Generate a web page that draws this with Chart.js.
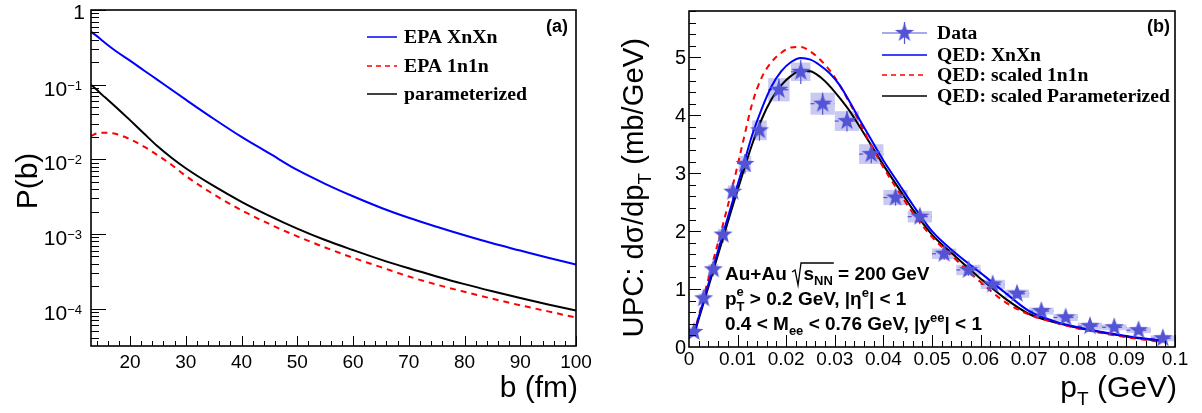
<!DOCTYPE html>
<html>
<head>
<meta charset="utf-8">
<script src="https://cdn.jsdelivr.net/npm/chart.js@4.4.1/dist/chart.umd.min.js"></script>
<style>
  body { margin: 0; background: #fff; }
  #wrap { position: relative; width: 1202px; height: 413px; }
  #probChart { position: absolute; left: 0; top: 0; }
  #ptChart { position: absolute; left: 600px; top: 0; }
</style>
</head>
<body>
<div id="wrap">
  <canvas id="probChart" width="600" height="413"></canvas>
  <canvas id="ptChart" width="602" height="413"></canvas>
</div>
<script>
// (a) probability vs impact parameter b (fm)
let bValues = [13, 14, 15, 16, 17.5, 20, 22.5, 25, 27.5, 30, 35, 40, 45, 50, 55, 60, 65, 70, 75, 80, 85, 90, 95, 100];
let pXnXn = [0.51, 0.45, 0.39, 0.34, 0.28, 0.21, 0.155, 0.115, 0.085, 0.063, 0.035, 0.020, 0.0120, 0.0072, 0.0047, 0.0032,
  0.00225, 0.00165, 0.00125, 0.00096, 0.00075, 0.0006, 0.00048, 0.00039];
let p1n1n = [0.0205, 0.0222, 0.0227, 0.0226, 0.0218, 0.0186, 0.0148, 0.0113, 0.0084, 0.0060, 0.0034, 0.00208, 0.00136, 0.00093,
  0.00066, 0.00048, 0.00036, 0.00027, 0.00021, 0.000168, 0.000136, 0.000111, 0.000092, 0.000076];
let pParam = [0.100, 0.086, 0.073, 0.063, 0.050, 0.0335, 0.0222, 0.0148, 0.0104, 0.0076, 0.0044, 0.0027, 0.00175, 0.00118,
  0.00083, 0.00061, 0.000454, 0.000347, 0.00027, 0.000213, 0.000171, 0.000139, 0.000114, 0.0000947];

// (b) UPC dsigma/dpT, measured points
let ptData = [0.001, 0.003, 0.005, 0.007, 0.009, 0.0115, 0.0145, 0.0185, 0.023, 0.0275, 0.0325, 0.0375, 0.0425, 0.0475,
  0.0525, 0.0575, 0.0625, 0.0675, 0.0725, 0.0775, 0.0825, 0.0875, 0.0925, 0.0975];
let dataYield = [0.26, 0.84, 1.34, 1.94, 2.68, 3.16, 3.74, 4.44, 4.75, 4.2, 3.9, 3.33, 2.58, 2.25, 1.61, 1.33, 1.08, 0.92,
  0.62, 0.51, 0.36, 0.34, 0.29, 0.15];
let statErr = [0.08, 0.1, 0.12, 0.14, 0.16, 0.17, 0.18, 0.19, 0.21, 0.19, 0.18, 0.16, 0.14, 0.13, 0.11, 0.1, 0.09, 0.08,
  0.07, 0.06, 0.06, 0.05, 0.05, 0.05];
let sysErr = [0.08, 0.08, 0.09, 0.1, 0.11, 0.14, 0.17, 0.2, 0.16, 0.19, 0.17, 0.17, 0.13, 0.1, 0.09, 0.09, 0.08, 0.07,
  0.06, 0.06, 0.06, 0.05, 0.05, 0.05];
let binHalf = [0.001, 0.001, 0.001, 0.001, 0.001, 0.0013, 0.0015, 0.0022, 0.002, 0.0025, 0.0025, 0.0025, 0.0025, 0.0025,
  0.0025, 0.0025, 0.0025, 0.0025, 0.0025, 0.0025, 0.0025, 0.0025, 0.0025, 0.0025];

// (b) QED curves
let ptModel = [0.001, 0.003, 0.005, 0.007, 0.009, 0.011, 0.013, 0.015, 0.017, 0.019, 0.021, 0.023, 0.025, 0.027, 0.029,
  0.031, 0.033, 0.035, 0.037, 0.040, 0.043, 0.046, 0.050, 0.055, 0.060, 0.065, 0.070, 0.075, 0.080, 0.085, 0.090, 0.0975];
let qedXnXn = [0.22, 0.80, 1.38, 1.96, 2.52, 3.08, 3.66, 4.12, 4.50, 4.76, 4.92, 4.99, 4.96, 4.86, 4.72, 4.52, 4.24, 3.94,
  3.65, 3.22, 2.84, 2.46, 2.00, 1.61, 1.28, 0.94, 0.62, 0.45, 0.34, 0.26, 0.19, 0.11];
let qed1n1n = [0.22, 0.86, 1.50, 2.12, 2.78, 3.50, 4.20, 4.66, 4.92, 5.08, 5.17, 5.18, 5.10, 4.96, 4.77, 4.52, 4.22, 3.90,
  3.56, 3.10, 2.70, 2.32, 1.90, 1.50, 1.12, 0.78, 0.56, 0.43, 0.32, 0.24, 0.17, 0.08];
let qedParam = [0.20, 0.76, 1.32, 1.88, 2.44, 2.98, 3.50, 3.94, 4.28, 4.52, 4.68, 4.77, 4.76, 4.66, 4.50, 4.30, 4.08, 3.82,
  3.55, 3.14, 2.76, 2.38, 1.94, 1.55, 1.18, 0.84, 0.57, 0.43, 0.33, 0.25, 0.18, 0.10];

let labelsA = ['EPA XnXn', 'EPA 1n1n', 'parameterized'];
let labelsB = ['Data', 'QED: XnXn', 'QED: scaled 1n1n', 'QED: scaled Parameterized'];
let bTicks = [20, 30, 40, 50, 60, 70, 80, 90, 100];
let pDecades = [-4, -3, -2, -1, 0];
let ptTicks = ['0', '0.01', '0.02', '0.03', '0.04', '0.05', '0.06', '0.07', '0.08', '0.09', '0.1'];
let yieldTicks = [0, 1, 2, 3, 4, 5];

const SANS = '"Liberation Sans", Arial, sans-serif';
const SERIF = '"Liberation Serif", "Times New Roman", serif';
const BLUE = '#0000ff';
const RED = '#ff0000';
const STAR = '#5353d6';
const BOX = '#c9c9f1';

let toPoints = (xs, ys) => xs.map((x, i) => ({ x: x, y: ys[i] }));

// text made of pieces with their own font and vertical shift;
// a piece with stack: true sits over the previous one (sub + superscript)
let drawRich = (ctx, parts, x, y, align) => {
  let widths = parts.map((p) => {
    ctx.font = p.font;
    return ctx.measureText(p.text).width;
  });
  let adv = widths.map((w, i) => (parts[i].stack ? Math.max(0, w - widths[i - 1]) : w));
  let total = adv.reduce((s, w) => s + w, 0);
  let cx = align === 'right' ? x - total : align === 'center' ? x - total / 2 : x;
  let starts = [];
  ctx.textAlign = 'left';
  ctx.textBaseline = 'alphabetic';
  parts.forEach((p, i) => {
    ctx.font = p.font;
    let px = p.stack ? starts[i - 1] : cx;
    starts.push(px);
    ctx.fillText(p.text, px, y + (p.dy || 0));
    cx += adv[i];
  });
  return { starts: starts, widths: widths };
};

// font size so that the text spans the given width
let fitSize = (ctx, text, weight, family, width) => {
  ctx.font = weight + ' 100px ' + family;
  return (100 * width) / ctx.measureText(text).width;
};

let line = (ctx, x1, y1, x2, y2) => {
  ctx.beginPath();
  ctx.moveTo(x1, y1);
  ctx.lineTo(x2, y2);
  ctx.stroke();
};

let makeStar = (r, color) => {
  let c = document.createElement('canvas');
  c.width = c.height = 2 * r + 2;
  let g = c.getContext('2d');
  g.fillStyle = color;
  g.beginPath();
  for (let k = 0; k < 10; k++) {
    let a = -Math.PI / 2 + (k * Math.PI) / 5;
    let rr = k % 2 ? r * 0.4 : r;
    g.lineTo(r + 1 + rr * Math.cos(a), r + 1 + rr * Math.sin(a));
  }
  g.closePath();
  g.fill();
  return c;
};
let starImg = makeStar(10, STAR);

// axes, ticks, labels and legend of panel (a)
let frameA = {
  id: 'frameA',
  afterDraw(chart) {
    let { ctx, chartArea: a, scales } = chart;
    let x = scales.x;
    let y = scales.y;
    ctx.save();
    ctx.fillStyle = '#000';
    ctx.strokeStyle = '#000';
    ctx.lineWidth = 1;
    for (let v = 14; v <= 100; v += 2) {
      let px = Math.round(x.getPixelForValue(v)) + 0.5;
      line(ctx, px, a.bottom, px, a.bottom - (v % 10 === 0 ? 10 : 5));
    }
    for (let e = -5; e <= 0; e++) {
      for (let k = 1; k <= 9; k++) {
        let v = k * Math.pow(10, e);
        if (v < y.min * 0.999 || v > y.max * 1.001) continue;
        let py = Math.round(y.getPixelForValue(v)) + 0.5;
        line(ctx, a.left, py, a.left + (k === 1 ? 15 : 8), py);
      }
    }
    ctx.lineWidth = 1.6;
    ctx.strokeRect(a.left, a.top, a.right - a.left, a.bottom - a.top);

    ctx.textAlign = 'center';
    ctx.font = '19px ' + SANS;
    bTicks.forEach((v) => ctx.fillText(String(v), x.getPixelForValue(v), a.bottom + 22));
    pDecades.forEach((e) => {
      let py = y.getPixelForValue(Math.pow(10, e));
      if (e === 0) {
        drawRich(ctx, [{ text: '1', font: '21px ' + SANS }], 85, py + 9, 'right');
      } else {
        drawRich(ctx, [
          { text: '10', font: '21px ' + SANS },
          { text: '\u2212' + -e, font: '13px ' + SANS, dy: -6 },
        ], 82, py + 11, 'right');
      }
    });

    // axis titles
    drawRich(ctx, [{ text: 'b (fm)', font: '30px ' + SANS }], a.right + 2, 397, 'right');
    ctx.save();
    ctx.translate(37, 181);
    ctx.rotate(-Math.PI / 2);
    drawRich(ctx, [{ text: 'P(b)', font: '30px ' + SANS }], 0, 0, 'center');
    ctx.restore();

    drawRich(ctx, [{ text: '(a)', font: 'bold 18px ' + SANS }], 568, 32, 'right');

    // legend
    let size = fitSize(ctx, labelsA[2], 'bold', SERIF, 123);
    let rows = [37, 66, 94];
    let styles = [[BLUE, []], [RED, [5, 4]], ['#000', []]];
    rows.forEach((ry, i) => {
      ctx.strokeStyle = styles[i][0];
      ctx.lineWidth = 1.5;
      ctx.setLineDash(styles[i][1]);
      line(ctx, 367, ry, 397, ry);
      ctx.setLineDash([]);
      drawRich(ctx, [{ text: labelsA[i], font: 'bold ' + size + 'px ' + SERIF }], 404, ry + 6, 'left');
    });
    ctx.restore();
  },
};

new Chart(document.getElementById('probChart'), {
  type: 'line',
  data: {
    datasets: [
      {
        label: labelsA[0],
        data: toPoints(bValues, pXnXn),
        borderColor: BLUE,
        borderWidth: 2,
        pointRadius: 0,
        cubicInterpolationMode: 'monotone',
      },
      {
        label: labelsA[1],
        data: toPoints(bValues, p1n1n),
        borderColor: RED,
        borderWidth: 2,
        borderDash: [6, 5],
        pointRadius: 0,
        cubicInterpolationMode: 'monotone',
      },
      {
        label: labelsA[2],
        data: toPoints(bValues, pParam),
        borderColor: '#000',
        borderWidth: 2,
        pointRadius: 0,
        cubicInterpolationMode: 'monotone',
      },
    ],
  },
  options: {
    responsive: false,
    animation: false,
    layout: { padding: { left: 91, right: 24, top: 10, bottom: 67 } },
    plugins: { legend: { display: false }, tooltip: { enabled: false } },
    scales: {
      x: { type: 'linear', min: 13, max: 100, display: false },
      y: { type: 'logarithmic', min: Math.pow(10, -4.5), max: 1, display: false },
    },
  },
  plugins: [frameA],
});

// systematic boxes and error bars under the data stars
let dataBars = {
  id: 'dataBars',
  beforeDatasetsDraw(chart) {
    let { ctx, scales } = chart;
    let x = scales.x;
    let y = scales.y;
    ctx.save();
    ptData.forEach((pt, i) => {
      let x1 = x.getPixelForValue(pt - binHalf[i]);
      let x2 = x.getPixelForValue(pt + binHalf[i]);
      let y1 = y.getPixelForValue(dataYield[i] + sysErr[i]);
      let y2 = y.getPixelForValue(dataYield[i] - sysErr[i]);
      ctx.fillStyle = BOX;
      ctx.fillRect(x1, y1, x2 - x1, y2 - y1);
    });
    ctx.strokeStyle = STAR;
    ctx.lineWidth = 1.2;
    ptData.forEach((pt, i) => {
      let px = x.getPixelForValue(pt);
      let py = y.getPixelForValue(dataYield[i]);
      line(ctx, px, y.getPixelForValue(dataYield[i] + statErr[i]), px, y.getPixelForValue(dataYield[i] - statErr[i]));
      ctx.setLineDash([4, 4]);
      line(ctx, x.getPixelForValue(pt - binHalf[i]), py, x.getPixelForValue(pt + binHalf[i]), py);
      ctx.setLineDash([]);
    });
    ctx.restore();
  },
};

// axes, ticks, labels, text and legend of panel (b)
let frameB = {
  id: 'frameB',
  afterDraw(chart) {
    let { ctx, chartArea: a, scales } = chart;
    let x = scales.x;
    let y = scales.y;
    ctx.save();
    ctx.fillStyle = '#000';
    ctx.strokeStyle = '#000';
    ctx.lineWidth = 1;
    for (let k = 1; k <= 50; k++) {
      let px = Math.round(x.getPixelForValue(k * 0.002)) + 0.5;
      line(ctx, px, a.bottom, px, a.bottom - (k % 5 === 0 ? 12 : 6));
    }
    for (let k = 1; k <= 29; k++) {
      let py = Math.round(y.getPixelForValue(k * 0.2)) + 0.5;
      line(ctx, a.left, py, a.left + (k % 5 === 0 ? 12 : 7), py);
    }
    ctx.lineWidth = 1.6;
    ctx.strokeRect(a.left, a.top, a.right - a.left, a.bottom - a.top);

    ptTicks.forEach((t) => {
      drawRich(ctx, [{ text: t, font: '19px ' + SANS }], x.getPixelForValue(Number(t)), a.bottom + 18, 'center');
    });
    yieldTicks.forEach((v) => {
      drawRich(ctx, [{ text: String(v), font: '20px ' + SANS }], a.left - 3, y.getPixelForValue(v) + 7, 'right');
    });

    // axis titles
    let big = '30px ' + SANS;
    let sub = '19px ' + SANS;
    drawRich(ctx, [
      { text: 'p', font: big },
      { text: 'T', font: sub, dy: 8 },
      { text: ' (GeV)', font: big },
    ], a.right + 2, 397, 'right');
    let ty = fitSize(ctx, 'UPC: d\u03c3/dpT (mb/GeV)', '', SANS, 306);
    ctx.save();
    ctx.translate(43, 38);
    ctx.rotate(-Math.PI / 2);
    drawRich(ctx, [
      { text: 'UPC: d\u03c3/dp', font: ty + 'px ' + SANS },
      { text: 'T', font: ty * 0.64 + 'px ' + SANS, dy: 8 },
      { text: ' (mb/GeV)', font: ty + 'px ' + SANS },
    ], 0, 0, 'right');
    ctx.restore();

    drawRich(ctx, [{ text: '(b)', font: 'bold 18px ' + SANS }], 570, 32, 'right');

    // collision system text
    let tb = 'bold 19px ' + SANS;
    let ts = 'bold 13px ' + SANS;
    let r1 = drawRich(ctx, [
      { text: 'Au+Au ', font: tb },
      { text: '\u2009\u2009\u2009', font: tb },
      { text: 's', font: tb },
      { text: 'NN', font: ts, dy: 5 },
      { text: ' = 200 GeV', font: tb },
    ], 125, 280, 'left');
    let sx = r1.starts[1];
    let ex = r1.starts[3] + r1.widths[3] + 1;
    ctx.lineWidth = 1.3;
    ctx.beginPath();
    ctx.moveTo(sx, 272);
    ctx.lineTo(sx + 3, 270);
    ctx.lineTo(sx + 6, 285);
    ctx.lineTo(sx + 9, 263);
    ctx.lineTo(ex, 263);
    ctx.stroke();
    drawRich(ctx, [
      { text: 'p', font: tb },
      { text: 'T', font: ts, dy: 6 },
      { text: 'e', font: ts, dy: -9, stack: true },
      { text: ' > 0.2 GeV, |\u03b7', font: tb },
      { text: 'e', font: ts, dy: -8 },
      { text: '| < 1', font: tb },
    ], 125, 305, 'left');
    drawRich(ctx, [
      { text: '0.4 < M', font: tb },
      { text: 'ee', font: ts, dy: 5 },
      { text: ' < 0.76 GeV, |y', font: tb },
      { text: 'ee', font: ts, dy: -8 },
      { text: '| < 1', font: tb },
    ], 125, 330, 'left');

    // legend
    let size = fitSize(ctx, labelsB[3], 'bold', SERIF, 233);
    let rows = [33, 55, 75, 96];
    let lx1 = 282;
    let lx2 = 327;
    ctx.strokeStyle = STAR;
    ctx.lineWidth = 1.2;
    line(ctx, lx1, rows[0], lx2, rows[0]);
    line(ctx, (lx1 + lx2) / 2, rows[0] - 11, (lx1 + lx2) / 2, rows[0] + 11);
    ctx.drawImage(starImg, (lx1 + lx2) / 2 - 11, rows[0] - 11);
    let styles = [[BLUE, []], [RED, [5, 4]], ['#000', []]];
    styles.forEach((s, i) => {
      ctx.strokeStyle = s[0];
      ctx.lineWidth = 1.5;
      ctx.setLineDash(s[1]);
      line(ctx, lx1, rows[i + 1], lx2, rows[i + 1]);
      ctx.setLineDash([]);
    });
    rows.forEach((ry, i) => {
      drawRich(ctx, [{ text: labelsB[i], font: 'bold ' + size + 'px ' + SERIF }], 337, ry + 6, 'left');
    });
    ctx.restore();
  },
};

new Chart(document.getElementById('ptChart'), {
  type: 'line',
  data: {
    datasets: [
      {
        label: labelsB[0],
        data: toPoints(ptData, dataYield),
        showLine: false,
        pointStyle: starImg,
        pointRadius: 10,
      },
      {
        label: labelsB[1],
        data: toPoints(ptModel, qedXnXn),
        borderColor: BLUE,
        borderWidth: 2,
        pointRadius: 0,
        cubicInterpolationMode: 'monotone',
      },
      {
        label: labelsB[2],
        data: toPoints(ptModel, qed1n1n),
        borderColor: RED,
        borderWidth: 2,
        borderDash: [6, 5],
        pointRadius: 0,
        cubicInterpolationMode: 'monotone',
      },
      {
        label: labelsB[3],
        data: toPoints(ptModel, qedParam),
        borderColor: '#000',
        borderWidth: 2,
        pointRadius: 0,
        cubicInterpolationMode: 'monotone',
      },
    ],
  },
  options: {
    responsive: false,
    animation: false,
    layout: { padding: { left: 89, right: 27, top: 10, bottom: 66 } },
    plugins: { legend: { display: false }, tooltip: { enabled: false } },
    scales: {
      x: { type: 'linear', min: 0, max: 0.1, display: false },
      y: { type: 'linear', min: 0, max: 5.8, display: false },
    },
  },
  plugins: [dataBars, frameB],
});
</script>
</body>
</html>
